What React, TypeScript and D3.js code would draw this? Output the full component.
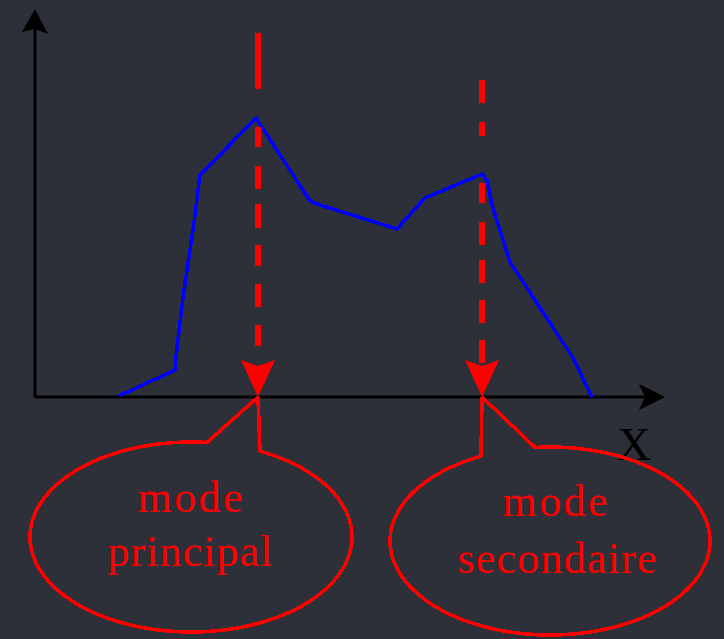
import React, { useEffect } from "react";
import * as d3 from "d3";

// Distribution curve (data units: x along axis, y height above axis)
const curveX = [84, 140, 141, 148, 158, 165, 172, 221, 275, 285, 362, 390, 447, 452, 457, 475, 538, 557];
const curveY = [1, 27, 40, 100, 167, 222, 229, 279, 196, 192, 168, 199, 223, 217, 192, 135, 39, 0];

// Modes
const modeNames = ["principal", "secondaire"];
const modeX = [223, 447];
const modeTopY = [364, 317];
const modeDashes = ["56,38,20,19,23,15,24,17,21,18,23,18,21,200", "23,19,14,47,20,19,23,15,23,17,23,17,23,200"];

// Callout ellipses (data units, below the axis)
const bubbleCx = [156, 515];
const bubbleCy = [-140, -144];
const bubbleRx = [161, 160];
const bubbleRy = [95, 94];
const bubbleLeftAttach = [172, 446];
const bubbleRightAttach = [225, 500];
const bubbleLine1 = ["mode", "mode"];
const bubbleLine2 = ["principal", "secondaire"];

const W = 724, H = 639;
const x = d3.scaleLinear().domain([0, 630]).range([35, 665]);
const y = d3.scaleLinear().domain([0, 388]).range([397, 9]);

const BG = "#2d3038";
const RED = "#ff0000";

export default function App() {
  useEffect(() => {
    document.body.style.margin = "0";
    document.body.style.background = BG;
  }, []);

  const pts: [number, number][] = curveX.map((v, i) => [x(v), y(curveY[i])]);
  const line = d3.line();

  const bubbles = modeX.map((m, i) => {
    const cx = x(bubbleCx[i]);
    const cy = y(bubbleCy[i]);
    const rx = bubbleRx[i];
    const ry = bubbleRy[i];
    const tL = Math.acos((x(bubbleLeftAttach[i]) - cx) / rx);
    const tR = Math.acos((x(bubbleRightAttach[i]) - cx) / rx) + 2 * Math.PI;
    const arc: [number, number][] = d3.range(0, 121).map((k) => {
      const t = tL + ((tR - tL) * k) / 120;
      return [cx + rx * Math.cos(t), cy - ry * Math.sin(t)];
    });
    const tip: [number, number] = [x(m), y(0)];
    const path = line([tip, ...arc, tip]);
    return { cx, cy, path };
  });

  const ax0 = x(0), ay0 = y(0);
  const xEnd = x(630), yEnd = y(388);

  return (
    <svg width={W} height={H} style={{ position: "fixed", left: 0, top: 0, background: BG }}>
      <rect x={0} y={0} width={W} height={H} fill={BG} />
      {/* axes */}
      <line x1={ax0} y1={ay0} x2={xEnd - 20} y2={ay0} stroke="#000" strokeWidth={3} />
      <line x1={ax0} y1={ay0} x2={ax0} y2={yEnd + 20} stroke="#000" strokeWidth={3} />
      <path
        d={`M${xEnd},${ay0} L${xEnd - 26},${ay0 - 13} L${xEnd - 20},${ay0} L${xEnd - 26},${ay0 + 13} Z`}
        fill="#000"
      />
      <path
        d={`M${ax0},${yEnd} L${ax0 + 13},${yEnd + 25} L${ax0},${yEnd + 20} L${ax0 - 13},${yEnd + 23} Z`}
        fill="#000"
      />
      <text
        x={634}
        y={460}
        fontFamily="'Liberation Serif', 'DejaVu Serif', serif"
        fontSize={47}
        textAnchor="middle"
        fill="#000"
      >
        X
      </text>

      {/* curve */}
      <path
        d={line(pts) || ""}
        fill="none"
        stroke="#0000ff"
        strokeWidth={3.6}
        strokeLinejoin="round"
        shapeRendering="crispEdges"
      />

      {/* mode markers */}
      {modeX.map((m, i) => (
        <g key={modeNames[i]}>
          <line
            x1={x(m)}
            y1={y(modeTopY[i])}
            x2={x(m)}
            y2={y(34)}
            stroke={RED}
            strokeWidth={6}
            strokeDasharray={modeDashes[i]}
          />
          <path
            d={`M${x(m) - 17},${y(37)} L${x(m)},${y(0)} L${x(m) + 17},${y(37)} L${x(m)},${y(31)} Z`}
            fill={RED}
          />
        </g>
      ))}

      {/* callouts */}
      {bubbles.map((b, i) => (
        <g key={"b" + i}>
          <path
            d={b.path || ""}
            fill="none"
            stroke={RED}
            strokeWidth={3.6}
            strokeLinejoin="round"
            shapeRendering="crispEdges"
          />
          <text
            x={b.cx + (i === 0 ? -1 : 5)}
            y={b.cy - 25}
            fontFamily="'Liberation Serif', 'DejaVu Serif', serif"
            fontSize={44}
            textAnchor="middle"
            fill={RED}
            textLength={105}
            lengthAdjust="spacing"
          >
            {bubbleLine1[i]}
          </text>
          <text
            x={b.cx + (i === 0 ? -1 : 7)}
            y={b.cy + (i === 0 ? 29 : 32)}
            fontFamily="'Liberation Serif', 'DejaVu Serif', serif"
            fontSize={44}
            textAnchor="middle"
            fill={RED}
            textLength={i === 0 ? 165 : 199}
            lengthAdjust="spacing"
          >
            {bubbleLine2[i]}
          </text>
        </g>
      ))}
    </svg>
  );
}
